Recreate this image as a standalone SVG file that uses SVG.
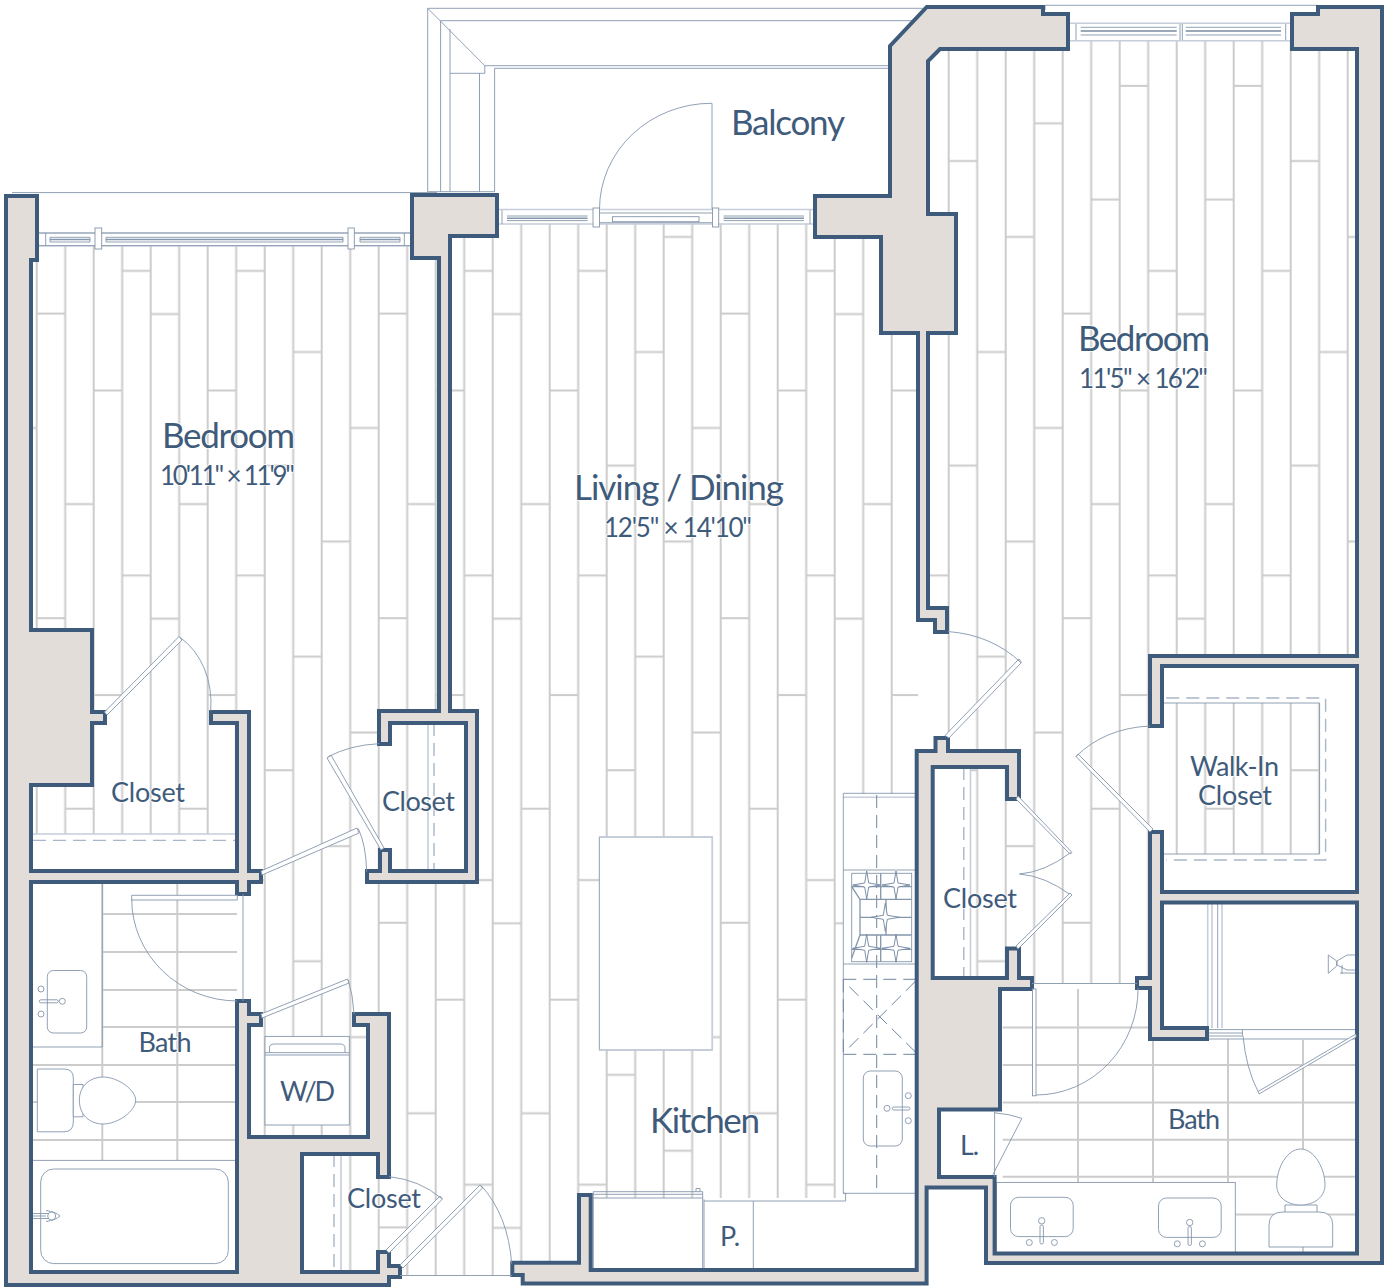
<svg xmlns="http://www.w3.org/2000/svg" width="1384" height="1287" viewBox="0 0 1384 1287">
<style>
.wall{fill:#e2ddd9;stroke:#3f5b7b;stroke-width:4;stroke-linejoin:miter}
.t{fill:none;stroke:#8496ab;stroke-width:.9}
.l{fill:none;stroke:#c6cedb;stroke-width:1.6}
.f{fill:#fff;stroke:#8496ab;stroke-width:.9}
.d{fill:none;stroke:#6f85a0;stroke-width:1;stroke-dasharray:13 7}
.d2{fill:none;stroke:#a9b6c8;stroke-width:1.4;stroke-dasharray:13 7}
.tile{fill:none;stroke:#cccccc;stroke-width:2}
.w{fill:#fff}
text{font-family:Lato,"Liberation Sans",sans-serif;fill:#3f5b7b;font-weight:400;stroke:#fff;stroke-width:2;stroke-opacity:.75;paint-order:stroke}
.lg{font-size:35px}.md{font-size:26px}.sm{font-size:27px}
</style>
<defs>
<pattern id="plank" patternUnits="userSpaceOnUse" x="36.7" y="0" width="342" height="304.6">
<path class="tile" d="M0 0V304.6M28.5 0V304.6M57 0V304.6M85.5 0V304.6M114 0V304.6M142.5 0V304.6M171 0V304.6M199.5 0V304.6M228 0V304.6M256.5 0V304.6M285 0V304.6M313.5 0V304.6M342 0V304.6M0 9h28.5M28.5 199.4h28.5M57 85.8h28.5M85.5 271h28.5M114 9.4h28.5M142.5 199.4h28.5M171 85.8h28.5M199.5 271h28.5M228 161h28.5M256.5 47.4h28.5M285 237h28.5M313.5 123.4h28.5"/>
</pattern>
<path id="burner" d="M0-14L2-2L14 0L2 2L0 14L-2 2L-14 0L-2-2Z" fill="#fff" stroke="#6f85a0" stroke-width=".9"/>
</defs>
<rect width="1384" height="1287" fill="#fff"/>
<g id="floor" fill="url(#plank)">
<rect x="31" y="245.5" width="408" height="588.5"/>
<rect x="450" y="223.5" width="468" height="1051.5"/>
<rect x="243" y="834" width="207" height="441"/>
<rect x="928" y="41" width="429" height="942"/>
<rect class="w" x="428" y="723" width="38" height="148"/>
<rect class="w" x="302" y="1154" width="39" height="118"/>
<rect class="w" x="933" y="767" width="37.500" height="211"/>
<rect class="w" x="1162" y="666" width="195" height="226"/>
<rect x="1163" y="703" width="157" height="151"/>
<rect class="w" x="1162" y="902" width="195" height="126"/>
<rect class="w" x="843" y="794" width="75" height="407"/>
<rect class="w" x="591" y="1198" width="327" height="72"/>
</g>
<g id="balcony" class="t">
<path d="M427.700 191.700V8.300H927M440.600 191.700V20.700H913M427.700 8.300L484.800 65.700V73.300H450M450 29V191.700M479.500 73.300V191.700M484.800 65.700H890M494.600 68.300H890M494.600 68.300V191.700M427.700 191.700H494.600"/>
<path d="M12 192.600H437M1045 5.300H1318V10M1045 5.300V10"/>
<path d="M712 103.300V209M712 103.300A112 106 0 0 0 599.500 209"/>
</g>
<g id="windows" class="t">
<path class="l" d="M38 245.700H412M38 233H412"/>
<path d="M38 233H412M38 245.700H412M45.700 233V245.700M404.300 233V245.700"/>
<path d="M50 237.300H90M50 242H90M50 237.300V242M90 237.300V242M106 237.300H343M106 242H343M106 237.300V242M343 237.300V242M360 237.300H400M360 242H400M360 237.300V242M400 237.300V242"/>
<path stroke-width="1.500" d="M50 239.500H90M106 239.500H343M360 239.500H400"/>
<rect class="f" x="95" y="228" width="6.700" height="21"/>
<rect class="f" x="348" y="228" width="6.300" height="21"/>
<path class="l" d="M497 209.500H815M497 224H815"/>
<path d="M502 210V224M810 210V224M507 216H587.500M507 220.600H587.500M723.600 216H804M723.600 220.600H804M599.500 213H712.500M599.500 222.700H712.500"/>
<path stroke-width="1.500" d="M507 218.300H587.500M723.600 218.300H804"/>
<rect x="612.500" y="216.700" width="86.500" height="5"/>
<rect class="f" x="593" y="208" width="6.500" height="19"/>
<rect class="f" x="712.500" y="208" width="6.200" height="19"/>
<path class="l" d="M1068 23.300H1292M1068 40.700H1292"/>
<path d="M1076 24V40M1285.700 24V40M1080.700 27.300H1176.700M1080.700 35H1176.700M1185.700 27.300H1281M1185.700 35H1281M1180 24V40M1182.300 24V40"/>
<path stroke-width="2" stroke="#9aa9ba" d="M1080.700 31H1176.700M1185.700 31H1281"/>
</g>
<g id="bath-left">
<path class="tile" d="M102.300 882V1047M102.300 1047V1160M177.300 882V1160M102.300 914H237M102.300 952H237M102.300 990H237M102.300 1027H237M31 1065H237M31 1102H237M31 1140H237"/>
<path class="t" d="M31 1047H102.300V882M31 1160.400H237"/>
<rect class="t" x="40.700" y="1169" width="187.600" height="94.600" rx="13"/>
<rect class="t" x="47.300" y="970.500" width="39.400" height="62.500" rx="6"/>
<circle class="t" cx="41" cy="989" r="3"/><circle class="t" cx="41" cy="1014" r="3"/><circle class="t" cx="62.300" cy="1001.300" r="3"/>
<rect class="t" x="39.300" y="999.800" width="19" height="3" rx="1.500"/>
<path class="f" d="M37.300 1069H64Q73.300 1069 73.300 1078V1122Q73.300 1131.800 64 1131.800H37.300Z"/>
<path class="f" d="M73.300 1084.500H83V1116.800H73.300Z"/>
<path class="f" d="M79.300 1100C79.300 1086 90 1077 103 1077C118 1077 135.700 1090 135.700 1100C135.700 1111 118 1124 103 1124C90 1124 79.300 1115 79.300 1100Z"/>
<path class="t" d="M33 1213.500H48M33 1218.500H48M33 1216H46"/>
<circle class="t" cx="51.700" cy="1216" r="4"/><path class="t" d="M46 1210.500Q56 1212 60 1216Q56 1220 46 1221.500"/>
</g>
<g id="wd">
<rect class="f" x="265" y="1036.400" width="84.300" height="88.600"/>
<path class="t" d="M265 1055H349.300M265 1052.700H349.300M269.500 1052.700V1048Q269.500 1044 274 1044H340Q345 1044 345 1048V1052.700"/>
</g>
<g id="kitchen">
<path class="l" d="M843.300 797.300H918"/>
<path class="t" d="M918 793.300H843.300V1193.300H918M843.300 1193.300H845.600V1201H704M843.300 870H918M843.300 964H918"/>
<rect class="f" x="599.300" y="837" width="113" height="213"/>
<path class="l" d="M599.300 837H712.300V1050H599.300"/>
<path class="d" d="M876.700 795V1195"/>
<rect class="t" x="851.700" y="873.300" width="60" height="88.400"/>
<path fill="none" stroke="#8496ab" stroke-width="1.300" d="M851.700 886.700H911.700M860 899.300H911.700M860 917.300H911.700M860 935H911.700M851.700 949.300H911.700M880.700 873.300V899.300M880.700 935V961.700M886 899.300V935M860 899.300V935M851.700 886.700L860 899.300M851.700 958L860 935"/>
<use href="#burner" x="866.700" y="885"/><use href="#burner" x="896" y="885"/><use href="#burner" x="885.300" y="917.300"/><use href="#burner" x="866.700" y="948.300"/><use href="#burner" x="896" y="948.300"/>
<path class="d" d="M843.300 979.300H917M843.300 1054.300H917M843.300 979.300V1054.300M849.300 986.700L916.700 1053.300M849.300 1047.300L916 980.700"/>
<rect class="t" x="863.300" y="1071" width="39" height="75" rx="7"/>
<circle class="t" cx="887" cy="1108.300" r="3"/><circle class="t" cx="908.300" cy="1095.700" r="3"/><circle class="t" cx="908.300" cy="1120.700" r="3"/>
<rect class="t" x="892.300" y="1107" width="17.700" height="3" rx="1.500"/>
<path class="t" d="M593.300 1191.700H702.700V1269M593.300 1194.300H702.700M593.300 1198H702.700M593.300 1191.700V1269H702.700M696 1191.700V1188.500H700V1191.700M704 1199.300V1270M753.300 1201V1270"/>
</g>
<g id="shelves">
<path class="l" d="M33 834H237M428 723V871M341 1154V1272M970.500 767V978M1207.700 902V1028M1222 902V1028M1212 902V1028"/>
<path class="d2" d="M33 840.400H237M434 723V871M334 1154V1272M963.800 767V978"/>
<path class="d2" d="M1166.300 698H1325.600V860H1166.300"/>
<path class="t" d="M1162.800 703H1319.600V854H1162.800M1217.700 902V1028"/>
</g>
<g id="bath-right">
<path class="tile" d="M1078 989V1182M1153 1039V1182M1228 1039V1182M1303 1040V1253M1002.700 1027.500H1207M1002.700 1065H1355M1002.700 1102.600H1355M1002.700 1139.700H1355M1002.700 1176.800H1355M1235.300 1214.400H1355"/>
<rect class="f" x="996.400" y="1182.400" width="238.900" height="71.200"/>
<rect class="t" x="1010.500" y="1197.300" width="62.700" height="39.300" rx="8"/>
<rect class="t" x="1158.500" y="1198" width="62.700" height="39.400" rx="8"/>
<circle class="t" cx="1041.700" cy="1220.800" r="3.200"/><circle class="t" cx="1029.300" cy="1242.500" r="3"/><circle class="t" cx="1054.400" cy="1242.500" r="3"/>
<rect class="t" x="1040" y="1225" width="3.400" height="19" rx="1.700"/>
<circle class="t" cx="1189.700" cy="1222.500" r="3.200"/><circle class="t" cx="1177.300" cy="1243.800" r="3"/><circle class="t" cx="1202.400" cy="1243.800" r="3"/>
<rect class="t" x="1188" y="1226.500" width="3.400" height="19" rx="1.700"/>
<path class="f" d="M1285 1205H1317V1214H1285Z"/>
<path class="f" d="M1269 1247V1225Q1269 1212 1283 1212H1319Q1332.700 1212 1332.700 1225V1247Z"/>
<path class="f" d="M1300.800 1149C1314 1149 1325 1168 1325 1185C1325 1197 1314 1205 1300.800 1205C1287 1205 1276.700 1197 1276.700 1185C1276.700 1168 1287 1149 1300.800 1149Z"/>
<path class="t" d="M1207 1029.600H1355M1207 1039H1355M1207.700 1033H1242.400M1207.700 1036H1242.400M1242.400 1029.600V1036"/>
<path class="t" d="M1355 973H1340M1355 955H1347L1337 961V965L1347 970H1355M1328.300 955L1336.700 961V966L1328.300 973.300Z"/>
<path class="t" d="M1342 965V974"/>
</g>
<g id="walls">
<path class="wall" d="M6 196H37V260H31V630H92V712H105V723H92V785H31V871H237V723H211V712H249V871H261V882H249V894H237V882H31V1272H237V1001H249V1014H261V1025H249V1137H368V1025H354V1014H389V1177H378V1154H302V1272H378V1252H389V1266H400V1277H389V1285H6Z"/>
<path class="wall" d="M412 195H497V236H450V711H477V882H367V871H380V850H390V871H466V723H390V744H379V711H439V258H412Z"/>
<path class="wall" d="M926.800 7H1043V14H1068V49H940L928 61V214H956V333H928V608H947V632H935V620H918V333H881V237H815V196H890V46Z"/>
<path class="wall" d="M1318 7H1382V1263H986V1187.500H926.600V1283.500H522.700V1275H512.300V1262.700H579V1195H590.700V1270H916.700V751H935.500V738H948V751H1019V799H1007V767H932.700V978H1007V948.600H1019V978H1032V989H1000V1109.500H939V1177H994.600V1253.600H1357V902.500H1162V1028H1207V1039H1150V988H1137V978H1150V832H1162V892H1357V666H1162V726H1150V656H1357V49H1292V14H1318Z"/>
</g>
<g id="doors">
<polygon class="f" points="104.500,712 179,636.500 182,640 107,715"/>
<path class="t" d="M180 637.400A60 75 0 0 1 210.700 710.800"/>
<polygon class="f" points="327,758 331,755 384,848 381,850"/>
<path class="t" d="M379 743.700Q350 745 327.700 757"/>
<polygon class="f" points="261,871 357,828 359,833 262,875"/>
<path class="t" d="M358.300 828.500Q366 845 366.700 871.600"/>
<polygon class="f" points="131.700,895.300 237.300,895.300 237.300,900 131.700,900"/>
<path class="t" d="M131.700 899A106 102 0 0 0 237 1001M243 894V1001"/>
<polygon class="f" points="261,1014 347.500,979 349,983 262,1018"/>
<path class="t" d="M348.300 980Q353 995 354 1014"/>
<polygon class="f" points="440,1196 442.500,1199 389,1253 386,1250"/>
<path class="t" d="M389 1176.600Q420 1180 441.700 1198.600"/>
<polygon class="f" points="400,1265 480,1185 482.500,1188 403,1268"/>
<path class="t" d="M481 1185.400Q508 1215 511.700 1263.600M400 1275.500H512"/>
<polygon class="f" points="1019,659 1021.500,662.500 949,738 945,735.500"/>
<path class="t" d="M948 631.500Q992 635 1021 662.700"/>
<polygon class="f" points="1016,799 1018,796 1072,852.500 1070,854"/>
<path class="t" d="M1070.700 852.500Q1045 872 1019.400 874Q1045 876 1070.700 895"/>
<polygon class="f" points="1072,895 1070,893 1016,946 1018,949"/>
<polygon class="f" points="1076,756.500 1078,754 1153,829 1150,832"/>
<path class="t" d="M1150 726Q1105 728 1076 756.500"/>
<rect class="f" x="1032.500" y="989" width="3.500" height="106.800"/>
<path class="t" d="M1036 1095A102 106 0 0 0 1138 988M1032 983.500H1137"/>
<path class="t" d="M1243 1036Q1246 1068 1258 1091.500"/>
<polygon class="f" points="1258,1091.500 1356,1034 1356,1037 1259,1094"/>
<path class="t" d="M994.600 1112V1177M994.600 1112.800Q1010 1114 1021.900 1118.400L992.800 1174.700"/>
</g>
<g id="labels">
<text class="lg" x="162" y="448" textLength="133">Bedroom</text>
<text class="md" x="160" y="485" textLength="135">10'11" × 11'9"</text>
<text class="lg" x="574" y="500" textLength="210">Living / Dining</text>
<text class="md" x="604" y="537" textLength="148">12'5" × 14'10"</text>
<text class="lg" x="1078" y="351" textLength="132">Bedroom</text>
<text class="md" x="1079" y="388.400" textLength="129">11'5" × 16'2"</text>
<text class="lg" x="731" y="135" textLength="114">Balcony</text>
<text class="lg" x="650" y="1133" textLength="110">Kitchen</text>
<text class="sm" x="720" y="1246" textLength="20">P.</text>
<text class="sm" x="111" y="802" textLength="74">Closet</text>
<text class="sm" x="382" y="811" textLength="73">Closet</text>
<text class="sm" x="138.500" y="1052" textLength="53">Bath</text>
<text class="sm" x="280" y="1101" textLength="55">W/D</text>
<text class="sm" x="347" y="1208" textLength="74">Closet</text>
<text class="sm" x="943" y="908" textLength="74">Closet</text>
<text class="sm" x="1190" y="775.700" textLength="89">Walk-In</text>
<text class="sm" x="1198" y="804.800" textLength="74">Closet</text>
<text class="sm" x="1168" y="1129" textLength="52">Bath</text>
<text class="sm" x="960" y="1155" textLength="19">L.</text>
</g>
</svg>
